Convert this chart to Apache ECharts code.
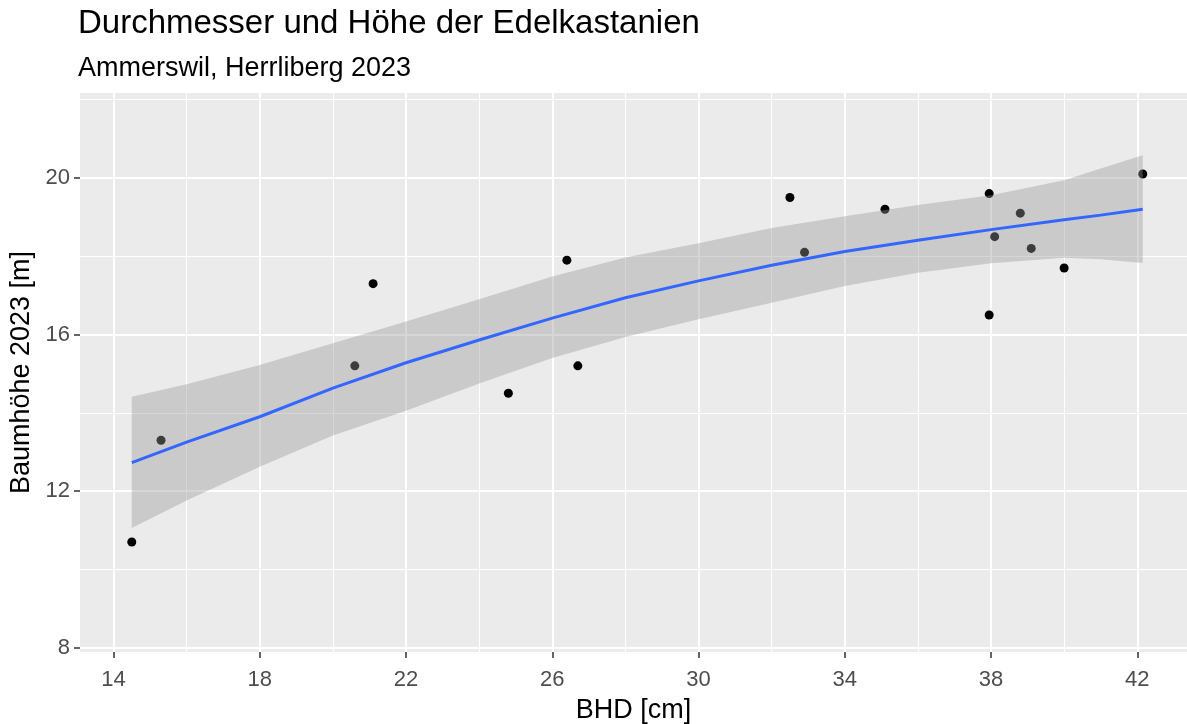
<!DOCTYPE html>
<html>
<head>
<meta charset="utf-8">
<title>Durchmesser und Höhe der Edelkastanien</title>
<script src="https://cdn.jsdelivr.net/npm/echarts/dist/echarts.min.js"></script>
<style>
  html, body { margin: 0; padding: 0; background: #fff; }
  #chart { width: 1187px; height: 724px; }
</style>
</head>
<body>
<div id="chart"></div>
<script>
// Messwerte: Brusthöhendurchmesser [cm] und Baumhöhe [m]
var bhd = [14.5, 15.3, 20.6, 21.1, 24.8, 26.4, 26.7, 32.5, 32.9, 35.1, 37.95, 37.95, 38.1, 38.8, 39.1, 40.0, 42.15];
var hoehe = [10.7, 13.3, 15.2, 17.3, 14.5, 17.9, 15.2, 19.5, 18.1, 19.2, 19.6, 16.5, 18.5, 19.1, 18.2, 17.7, 20.1];

// Glättungskurve mit Konfidenzband
var fitX = [14.5, 16, 18, 20, 22, 24, 26, 28, 30, 32, 34, 36, 38, 40, 41, 42.15];
var fitY = [12.73, 13.25, 13.90, 14.63, 15.28, 15.86, 16.42, 16.94, 17.37, 17.77, 18.12, 18.41, 18.68, 18.93, 19.05, 19.20];
var ciUpper = [14.41, 14.73, 15.22, 15.78, 16.33, 16.90, 17.48, 17.97, 18.33, 18.72, 19.02, 19.31, 19.56, 19.94, 20.24, 20.58];
var ciLower = [11.06, 11.76, 12.62, 13.42, 14.05, 14.75, 15.40, 15.94, 16.39, 16.81, 17.24, 17.58, 17.82, 17.96, 17.92, 17.83];

// Achsenbeschriftung
var xTicks = [14, 18, 22, 26, 30, 34, 38, 42];
var xMinor = [16, 20, 24, 28, 32, 36, 40];
var yTicks = [8, 12, 16, 20];
var yMinor = [10, 14, 18, 22];

var font = "'Liberation Sans', Arial, sans-serif";
var chart = echarts.init(document.getElementById('chart'), null, { renderer: 'canvas' });

var points = bhd.map(function (x, i) { return [x, hoehe[i]]; });
var fitLine = fitX.map(function (x, i) { return [x, fitY[i]]; });
var band = fitX.map(function (x, i) { return [x, ciLower[i], ciUpper[i]]; });

// gemeinsame Einstellungen der Hilfsachsen (nur Nebengitter)
function minorAxis(values) {
  return {
    type: 'value',
    axisLine: { show: false },
    axisTick: { show: false, customValues: values },
    axisLabel: { show: false },
    splitLine: { show: true, lineStyle: { color: '#FFFFFF', width: 1 } }
  };
}

// Konfidenzband als ein Polygon: oben hin, unten zurück
function renderBand(params, api) {
  if (params.dataIndex !== 0) return;
  var top = [], bottom = [];
  for (var i = 0; i < band.length; i++) {
    top.push(api.coord([band[i][0], band[i][2]]));
    bottom.unshift(api.coord([band[i][0], band[i][1]]));
  }
  return {
    type: 'polygon',
    shape: { points: top.concat(bottom) },
    style: { fill: 'rgba(153,153,153,0.4)' }
  };
}

var xMin = 13.084, xMax = 43.36;
var yMin = 7.89, yMax = 22.17;

var option = {
  animation: false,
  backgroundColor: '#FFFFFF',
  title: [
    {
      text: 'Durchmesser und Höhe der Edelkastanien',
      left: 78, top: 7, padding: 0,
      textStyle: { fontFamily: font, fontSize: 33, lineHeight: 33, fontWeight: 'normal', color: '#000000' }
    },
    {
      text: 'Ammerswil, Herrliberg 2023',
      left: 78, top: 55, padding: 0,
      textStyle: { fontFamily: font, fontSize: 27, lineHeight: 27, fontWeight: 'normal', color: '#000000' }
    }
  ],
  grid: {
    left: 80, right: 0, top: 93, bottom: 72,
    outerBoundsMode: 'none', // Achsentitel dürfen das Panel nicht verkleinern
    show: true, backgroundColor: '#EBEBEB', borderWidth: 0
  },
  xAxis: [
    {
      type: 'value',
      min: xMin, max: xMax,
      name: 'BHD [cm]', nameLocation: 'middle', nameGap: 45,
      nameTextStyle: { fontFamily: font, fontSize: 27, lineHeight: 27, color: '#000000' },
      axisLine: { show: false },
      axisTick: { show: true, length: 6, customValues: xTicks, lineStyle: { color: '#333333', width: 1.5 } },
      axisLabel: { customValues: xTicks, margin: 17, fontFamily: font, fontSize: 22, lineHeight: 22, color: '#4D4D4D' },
      splitLine: { show: true, lineStyle: { color: '#FFFFFF', width: 2 } }
    },
    Object.assign(minorAxis(xMinor), { min: xMin, max: xMax, position: 'bottom' })
  ],
  yAxis: [
    {
      type: 'value',
      min: yMin, max: yMax,
      name: 'Baumhöhe 2023 [m]', nameLocation: 'middle', nameGap: 40,
      nameTextStyle: { fontFamily: font, fontSize: 27, lineHeight: 27, color: '#000000' },
      axisLine: { show: false },
      axisTick: { show: true, length: 6, customValues: yTicks, lineStyle: { color: '#333333', width: 1.5 } },
      axisLabel: { customValues: yTicks, margin: 10, padding: [6, 0, 0, 0], fontFamily: font, fontSize: 22, lineHeight: 22, color: '#4D4D4D' },
      splitLine: { show: true, lineStyle: { color: '#FFFFFF', width: 2 } }
    },
    Object.assign(minorAxis(yMinor), { min: yMin, max: yMax, position: 'left' })
  ],
  series: [
    {
      // Messpunkte (liegen unter dem Band)
      type: 'scatter',
      data: points,
      symbolSize: 9,
      itemStyle: { color: '#000000', opacity: 1 },
      z: 2
    },
    {
      // Konfidenzband
      type: 'custom',
      data: band,
      renderItem: renderBand,
      encode: { x: 0, y: [1, 2] },
      silent: true,
      z: 3
    },
    {
      // Glättungskurve
      type: 'line',
      data: fitLine,
      symbol: 'none',
      lineStyle: { color: '#3366FF', width: 3 },
      z: 4
    }
  ]
};

chart.setOption(option);
</script>
</body>
</html>
